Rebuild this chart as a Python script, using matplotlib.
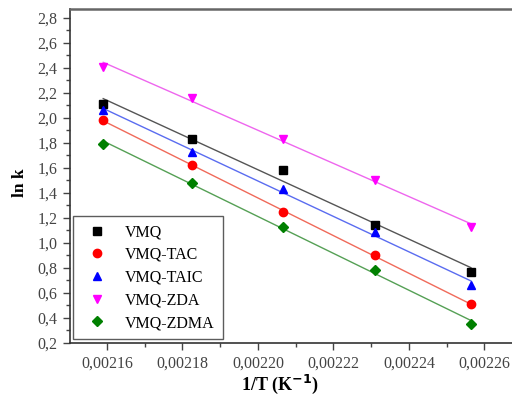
import numpy as np
import matplotlib
matplotlib.use('Agg')
import matplotlib.pyplot as plt
from matplotlib.ticker import MultipleLocator, FuncFormatter

inv_T = [0.0021590, 0.0021826, 0.0022066, 0.0022310, 0.0022564]

vmq = [2.11, 1.83, 1.58, 1.14, 0.77]
vmq_tac = [1.98, 1.62, 1.25, 0.90, 0.51]
vmq_taic = [2.06, 1.73, 1.43, 1.09, 0.66]
vmq_zda = [2.41, 2.16, 1.83, 1.50, 1.13]
vmq_zdma = [1.79, 1.48, 1.13, 0.78, 0.35]

names = ['VMQ', 'VMQ-TAC', 'VMQ-TAIC', 'VMQ-ZDA', 'VMQ-ZDMA']
series = [vmq, vmq_tac, vmq_taic, vmq_zda, vmq_zdma]
marker_colors = ['black', 'red', 'blue', 'magenta', 'green']
line_colors = ['#555555', '#f06a5a', '#5a6cf0', '#ee66ee', '#55a055']
markers = ['s', 'o', '^', 'v', 'D']

plt.rcParams['font.family'] = ['Liberation Serif', 'DejaVu Serif']

fig = plt.figure(figsize=(5.12, 3.99), dpi=100)
ax = fig.add_axes([70 / 512, 56 / 399, 444 / 512, 334 / 399])

x = np.array(inv_T)
for ys, name, mc, lc, mk in zip(series, names, marker_colors, line_colors, markers):
    ys = np.array(ys)
    slope, icpt = np.polyfit(x, ys, 1)
    ax.plot(x, slope * x + icpt, color=lc, lw=1.0, zorder=2)
    ax.plot(x, ys, linestyle='none', marker=mk, color=mc, markersize=6 if mk != 'D' else 5,
            label=name, zorder=3)

ax.set_xlim(0.0021502, 0.0021502 + 444 / 75.5 * 0.00002)
ax.set_ylim(0.2, 2.87)
ax.xaxis.set_major_locator(MultipleLocator(0.00002))
ax.xaxis.set_minor_locator(MultipleLocator(0.00001))
ax.yaxis.set_major_locator(MultipleLocator(0.2))
ax.yaxis.set_minor_locator(MultipleLocator(0.1))
ax.xaxis.set_major_formatter(FuncFormatter(lambda v, p: f'{v:.5f}'.replace('.', ',')))
ax.yaxis.set_major_formatter(FuncFormatter(lambda v, p: f'{v:.1f}'.replace('.', ',')))

ax.tick_params(which='both', direction='out', colors='#444444', labelsize=11.5)
ax.tick_params(which='major', length=5, width=1, pad=4)
ax.tick_params(which='minor', length=3, width=1)
for sp in ax.spines.values():
    sp.set_color('#333333')
    sp.set_linewidth(1.2)
ax.spines['top'].set_color('#666666')
ax.spines['top'].set_linewidth(1.8)

ax.set_ylabel('ln k', fontsize=12.5, fontweight='bold')
ax.yaxis.set_label_coords(-0.094, 0.48)
ax.set_xlabel('1/T (K$^{\\mathbf{-1}}$)', fontsize=13, fontweight='bold')
ax.xaxis.set_label_coords((280 - 70) / 444, -0.088)

leg = ax.legend(loc='lower left', fontsize=11.5, frameon=True, fancybox=False,
                edgecolor='#333333', borderpad=0.5, handletextpad=0.75,
                labelspacing=0.42, borderaxespad=0,
                bbox_to_anchor=(3 / 444, 4 / 334))
leg.get_frame().set_linewidth(1.0)

fig.savefig('out.png', dpi=100)
